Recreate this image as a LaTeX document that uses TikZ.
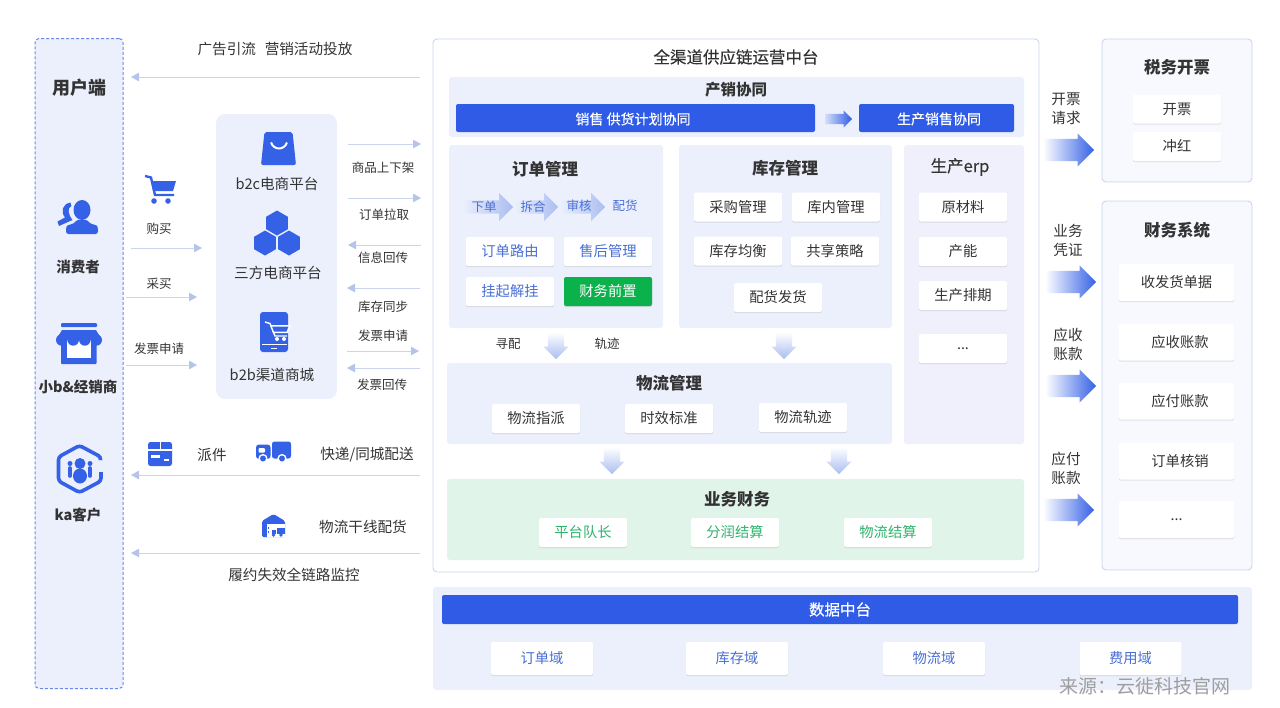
\documentclass[tikz,border=0pt]{standalone}
\usepackage{fontspec}
\setmainfont{Noto Sans CJK SC}
\newfontfamily\mediumfont{Noto Sans CJK SC}[FakeBold=0.35]
\definecolor{popblue}{HTML}{2F5BE7}
\definecolor{iconblue}{HTML}{3461E6}
\definecolor{softblue}{HTML}{ECF0FC}
\definecolor{softviolet}{HTML}{F0F0FC}
\definecolor{softgreen}{HTML}{E1F4EA}
\definecolor{softgrey}{HTML}{F7F9FE}
\definecolor{edgeblue}{HTML}{C9D5EC}
\definecolor{lineblue}{HTML}{CAD5EE}
\definecolor{tipblue}{HTML}{B5C4EA}
\definecolor{fadeblue}{HTML}{A9BDF0}
\definecolor{inktext}{HTML}{333333}
\definecolor{cardblue}{HTML}{4A6FD6}
\definecolor{cardgreen}{HTML}{2FB36F}
\definecolor{solidgreen}{HTML}{0BB14A}
\usepackage{tikz}
\usetikzlibrary{shapes.geometric, shapes.arrows, arrows.meta, shadows}
\tikzset{
  band/.style={rounded corners=3pt, inner sep=0pt, fill=softblue},
  framed/.style={rounded corners=4pt, inner sep=0pt, fill=softgrey, draw=edgeblue, line width=0.9pt},
  solidbar/.style={rounded corners=2pt, inner sep=0pt, fill=popblue, text=white, font=\fontsize{14}{17}\mediumfont\selectfont},
  card/.style={rounded corners=2pt, inner sep=0pt, fill=white, minimum width=88, minimum height=29,
    text=inktext, font=\fontsize{14.3}{17}\selectfont,
    drop shadow={shadow xshift=0pt, shadow yshift=-1.2pt, opacity=0.14, fill=black!70}},
  headtext/.style={inner sep=0pt, text=inktext, font=\fontsize{16.5}{20}\bfseries\selectfont},
  roletext/.style={inner sep=0pt, text=inktext, font=\fontsize{14.5}{18}\bfseries\selectfont},
  plaintext/.style={inner sep=0pt, text=inktext, font=\fontsize{14.6}{19}\selectfont, align=center},
  smalltext/.style={inner sep=0pt, text=inktext, font=\fontsize{12.5}{15}\selectfont},
  flowline/.style={draw=lineblue, line width=1pt, -{Triangle[length=8pt, width=8.5pt, color=tipblue]}},
  fatarrow/.style={single arrow, draw=none, anchor=tail, inner xsep=0pt, inner ysep=11pt, minimum height=51,
    single arrow head extend=5.5pt, left color=white, right color=iconblue},
  steparrow/.style={single arrow, draw=none, anchor=tail, inner xsep=0pt, inner ysep=6.5pt,
    single arrow head extend=7.5pt, left color=softblue, right color=fadeblue},
  downarrow/.style={single arrow, draw=none, anchor=tail, shape border rotate=270, inner xsep=8pt, inner ysep=0pt,
    minimum height=27, single arrow head extend=4.5pt, top color=white, bottom color=fadeblue},
  hexcell/.style={regular polygon, regular polygon sides=6, shape border rotate=30, fill=iconblue, inner sep=0pt, minimum size=25}
}

\begin{document}
\begin{tikzpicture}[x=1pt, y=-1pt]
  \useasboundingbox (0,0) rectangle (1280,707);

  % user column
  \node[band, rounded corners=4pt, draw=iconblue!75, densely dashed, line width=1pt, minimum width=88, minimum height=650] (user) at (79,363.5) {};
  \node[inner sep=0pt, text=inktext, font=\fontsize{18}{22}\bfseries\selectfont] (user-title) at (79,88) {用户端};
  \node[roletext] (consumer) at (78,267) {消费者};
  \node[roletext] (dealer) at (78,387) {小b\&经销商};
  \node[roletext] (kacustomer) at (78,515) {ka客户};

  % consumer icon
  \fill[iconblue] (82,210) ellipse (8.5 and 10);
  \fill[iconblue, rounded corners=2.5pt] (66,234) -- (66,228.5) .. controls (67,225) and (74,224) .. (76,220) -- (88,220) .. controls (90,224) and (97,225) .. (98,228.5) -- (98,234) -- cycle;
  \fill[iconblue] (70.5,202.5) .. controls (62,204) and (60.5,212) .. (65,217.5) -- (57.5,221.5) -- (59,226) -- (72.5,220) .. controls (68,214) and (67,208) .. (71.5,206) -- cycle;
  % store icon
  \fill[iconblue, rounded corners=1pt] (61,323) rectangle (97,327);
  \fill[iconblue, rounded corners=1pt] (61,342) rectangle (96.5,364);
  \fill[white] (66.5,342) rectangle (91,357.5);
  \fill[iconblue] (62,330) -- (96,330) -- (102,340) -- (56,340) -- cycle;
  \foreach \cx in {61.7,73.2,84.8,96.3} \fill[iconblue] (\cx,340) circle (5.7);
  % ka icon
  \draw[iconblue, line width=3.6pt, rounded corners=3pt] (100.5,460) -- (101,457) -- (79.5,445.5) -- (58.5,457) -- (58.5,481) -- (79.5,492.5) -- (101,481) -- (101,472);
  \fill[iconblue] (80,463.5) circle (5.5);
  \fill[iconblue] (80,476) ellipse (7 and 7.5);
  \foreach \cx in {70,90} {\fill[iconblue] (\cx,463.5) circle (2.5); \draw[iconblue, line width=3.6pt, line cap=round] (\cx,468) -- (\cx,476);}

  % cart icon
  \draw[iconblue, line width=2.4pt] (145,176) -- (151,177.5) -- (155,195) -- (174,195);
  \fill[iconblue] (151,181) -- (176,181) -- (173,191) -- (153,191) -- cycle;
  \foreach \cx in {154,168} \fill[iconblue] (\cx,201) circle (2.8);

  % buyer side labels
  \foreach \i/\tx/\x/\y in {1/购买/159/229, 2/采买/159/284, 3/发票申请/159/349}
    \node[smalltext] (buy\i) at (\x,\y) {\tx};

  % platform column
  \node[band, rounded corners=9pt, minimum width=121, minimum height=285] (platform) at (276.5,256.5) {};
  \node[plaintext] (b2c) at (277,184) {b2c电商平台};
  \node[plaintext] (thirdparty) at (278,273) {三方电商平台};
  \node[plaintext] (b2b) at (272,375) {b2b渠道商城};
  % bag icon
  \fill[iconblue, rounded corners=2pt] (264.5,132) -- (292.5,132) -- (296,165) -- (261,165) -- cycle;
  \draw[white, line width=2pt] (271,142.5) .. controls (274,150.5) and (284,150.5) .. (287,142.5);
  % hex icon
  \node[hexcell] (hex-a) at (277,223) {};
  \node[hexcell] (hex-b) at (265,243) {};
  \node[hexcell] (hex-c) at (289,243) {};
  % phone icon
  \fill[iconblue, rounded corners=3pt] (260,312) rectangle (288,352);
  \draw[white, line width=1.4pt] (265,322) -- (270,323.5) -- (275,336) -- (287,336);
  \fill[white] (270,325) -- (291,325) -- (288,333) -- (273,333) -- cycle;
  \fill[iconblue] (272,326.5) -- (288.5,326.5) -- (286.5,331.5) -- (274,331.5) -- cycle;
  \foreach \cx in {277,284} \fill[white] (\cx,339) circle (2);
  \fill[white] (261.5,343.5) rectangle (286.5,344.3);
  \fill[white] (271,347.5) rectangle (276.5,349);

  % platform side labels
  \foreach \i/\tx/\x/\y in {1/商品上下架/383/168, 2/订单拉取/384/215, 3/信息回传/383/258, 4/库存同步/383/307, 5/发票申请/383/336, 6/发票回传/382/385}
    \node[smalltext] (sync\i) at (\x,\y) {\tx};

  % thin connectors
  \foreach \i/\xa/\xb/\y in {1/420/131/77, 2/131/202/248, 3/126/197/297, 4/126/197/365, 5/348/421/144, 6/348/421/198, 7/421/348/245, 8/420/347/288, 9/347/419/351, 10/420/347/368, 11/420/131/475, 12/420/131/553}{
    \coordinate (flow\i-a) at (\xa,\y);
    \coordinate (flow\i-b) at (\xb,\y);
    \draw[flowline] (flow\i-a) -- (flow\i-b);
  }

  % fulfilment labels
  \node[plaintext] (adtext) at (275,49) {广告引流\hspace{0.6em}营销活动投放};
  \node[plaintext] (dispatch) at (212,455) {派件};
  \node[plaintext] (express) at (367,455) {快递/同城配送};
  \node[plaintext] (trunkline) at (363,527) {物流干线配货};
  \node[plaintext] (monitor) at (294,575) {履约失效全链路监控};
  % parcel icon
  \fill[iconblue, rounded corners=2.5pt] (148,442) rectangle (172,466);
  \fill[white] (148,449) rectangle (172,450.5);
  \fill[white] (159.5,442) rectangle (160.5,449);
  \fill[white] (151,455) rectangle (160,458);
  \fill[white] (164,459) rectangle (169,461);
  % truck icon
  \fill[iconblue, rounded corners=3pt] (256,444.5) rectangle (270.5,459);
  \fill[iconblue, rounded corners=2.5pt] (272,441.5) rectangle (291,458.5);
  \fill[white, rounded corners=1pt] (258.5,448) rectangle (265,452.5);
  \foreach \cx in {263,282} {\fill[white] (\cx,458.5) circle (4.6); \fill[iconblue] (\cx,458.5) circle (3);}
  % warehouse icon
  \fill[iconblue, rounded corners=1.5pt] (262,537) -- (262,521) -- (273.5,514) -- (285,521) -- (285,537) -- cycle;
  \fill[white] (267,524) rectangle (285,537);
  \fill[iconblue] (267.5,527) rectangle (269,529);
  \fill[iconblue] (267.5,531) rectangle (269,533);
  \fill[iconblue] (277,527.5) rectangle (285,534);
  \fill[iconblue] (271.5,530) rectangle (276,534);
  \foreach \cx in {273.5,281} \fill[iconblue] (\cx,535) circle (1.8);

  % main platform
  \node[framed, fill=white, minimum width=606, minimum height=533] (main) at (736,305.5) {};
  \node[inner sep=0pt, text=inktext, font=\fontsize{16.5}{20}\mediumfont\selectfont] (main-title) at (736,57) {全渠道供应链运营中台};

  \node[band, minimum width=575, minimum height=60] (collab) at (736.5,107) {};
  \node[headtext, font=\fontsize{15.5}{19}\bfseries\selectfont] (collab-title) at (736,90) {产销协同};
  \node[solidbar, minimum width=359, minimum height=28] (plan-bar) at (635.5,118) {};
  \node[inner sep=0pt, text=white, font=\fontsize{14}{17}\mediumfont\selectfont] (plan-text) at (633,119) {销售 供货计划协同};
  \node[solidbar, minimum width=155, minimum height=28] (prod-bar) at (936.5,118) {};
  \node[inner sep=0pt, text=white, font=\fontsize{14}{17}\mediumfont\selectfont] (prod-text) at (939,119) {生产销售协同};
  \node[single arrow, draw=none, anchor=tail, inner xsep=0pt, inner ysep=5pt, minimum height=27, single arrow head extend=3.5pt, left color=fadeblue!50, right color=popblue] (plan-arrow) at (825,119) {};

  % order
  \node[band, minimum width=214, minimum height=183] (order) at (556,236.5) {};
  \node[headtext] (order-title) at (545,169) {订单管理};
  \node[steparrow, minimum height=51] (step1) at (462,207) {};
  \node[steparrow, minimum height=43] (step2) at (515,207) {};
  \node[steparrow, minimum height=45] (step3) at (560,207) {};
  \foreach \i/\tx/\x/\y in {1/下单/484/207, 2/拆合/533/207, 3/审核/579/206, 4/配货/625/206}
    \node[smalltext, text=cardblue] (steptext\i) at (\x,\y) {\tx};
  \node[card, text=cardblue] (route) at (510,251.5) {订单路由};
  \node[card, text=cardblue] (aftersale) at (608,251.5) {售后管理};
  \node[card, text=cardblue] (hold) at (510,291.5) {挂起解挂};
  \node[card, fill=solidgreen, text=white] (prefinance) at (608,291.5) {财务前置};

  % stock
  \node[band, minimum width=213, minimum height=183] (stock) at (785.5,236.5) {};
  \node[headtext] (stock-title) at (785,168) {库存管理};
  \node[card] (purchase) at (738,207) {采购管理};
  \node[card] (warehouse) at (836,207) {库内管理};
  \node[card] (balance) at (738,251) {库存均衡};
  \node[card] (sharing) at (835,251) {共享策略};
  \node[card] (allot) at (778,297.5) {配货发货};

  % erp
  \node[band, fill=softviolet, minimum width=120, minimum height=299] (erp) at (964,294.5) {};
  \node[headtext, font=\fontsize{16.5}{20}\mediumfont\selectfont] (erp-title) at (960,167) {生产erp};
  \node[card] (material) at (963,207) {原材料};
  \node[card] (capacity) at (963,251.5) {产能};
  \node[card] (schedule) at (963,295.5) {生产排期};
  \node[card] (erp-more) at (963,348.5) {...};

  \node[smalltext] (seek) at (508,344) {寻配};
  \node[smalltext] (track) at (607,344) {轨迹};
  \node[downarrow] (down1) at (556,332) {};
  \node[downarrow] (down2) at (784,332) {};

  % logistics
  \node[band, minimum width=445, minimum height=81] (logistics) at (669.5,403.5) {};
  \node[headtext] (logistics-title) at (669,383) {物流管理};
  \node[card] (assign) at (536,418.5) {物流指派};
  \node[card] (timing) at (669,418.5) {时效标准};
  \node[card] (tracking) at (803,417.5) {物流轨迹};
  \node[downarrow] (down3) at (612,447) {};
  \node[downarrow] (down4) at (839,447) {};

  % business finance
  \node[band, fill=softgreen, minimum width=577, minimum height=81] (finance) at (735.5,519.5) {};
  \node[headtext] (finance-title) at (737,499) {业务财务};
  \node[card, text=cardgreen] (captain) at (583,532.5) {平台队长};
  \node[card, text=cardgreen] (profit) at (735,532.5) {分润结算};
  \node[card, text=cardgreen] (freight) at (888,532.5) {物流结算};

  % right side arrows
  \node[plaintext] (req-invoice) at (1066,109) {开票\\请求};
  \node[plaintext] (req-voucher) at (1068,240.5) {业务\\凭证};
  \node[plaintext] (req-receive) at (1068,344.5) {应收\\账款};
  \node[plaintext] (req-payable) at (1066,468.5) {应付\\账款};
  \node[fatarrow] (out1) at (1043,150) {};
  \node[fatarrow] (out2) at (1045,282) {};
  \node[fatarrow] (out3) at (1045,386) {};
  \node[fatarrow] (out4) at (1043,510) {};

  % tax
  \node[framed, minimum width=150, minimum height=143] (tax) at (1177,110.5) {};
  \node[headtext] (tax-title) at (1177,67) {税务开票};
  \node[card] (invoice) at (1177,109) {开票};
  \node[card] (reversal) at (1177,146.5) {冲红};

  % accounting
  \node[framed, minimum width=150, minimum height=369] (accounting) at (1177,385.5) {};
  \node[headtext] (accounting-title) at (1177,230) {财务系统};
  \node[card, minimum width=115, minimum height=37] (receipts) at (1176.5,282.5) {收发货单据};
  \foreach \nm/\tx/\y in {receivable/应收账款/342, payable/应付账款/401, writeoff/订单核销/461}
    \node[card, minimum width=115, minimum height=37] (\nm) at (1176.5,\y) {\hspace*{7pt}\tx};
  \node[card, minimum width=115, minimum height=37] (acc-more) at (1176.5,519.5) {...};

  % data platform
  \node[band, minimum width=819, minimum height=103] (data) at (842.5,638.5) {};
  \node[solidbar, minimum width=796, minimum height=29, font=\fontsize{15.5}{19}\mediumfont\selectfont] (data-bar) at (840,609.5) {数据中台};
  \foreach \nm/\tx/\x in {orderdomain/订单域/542, stockdomain/库存域/737, logisticsdomain/物流域/934, costdomain/费用域/1130.5}
    \node[card, text=cardblue, minimum width=102, minimum height=33] (\nm) at (\x,658.5) {\tx};

  \node[inner sep=0pt, text=black!38, font=\fontsize{19}{22}\selectfont] (source) at (1145,686) {来源：云徙科技官网};
\end{tikzpicture}
\end{document}
